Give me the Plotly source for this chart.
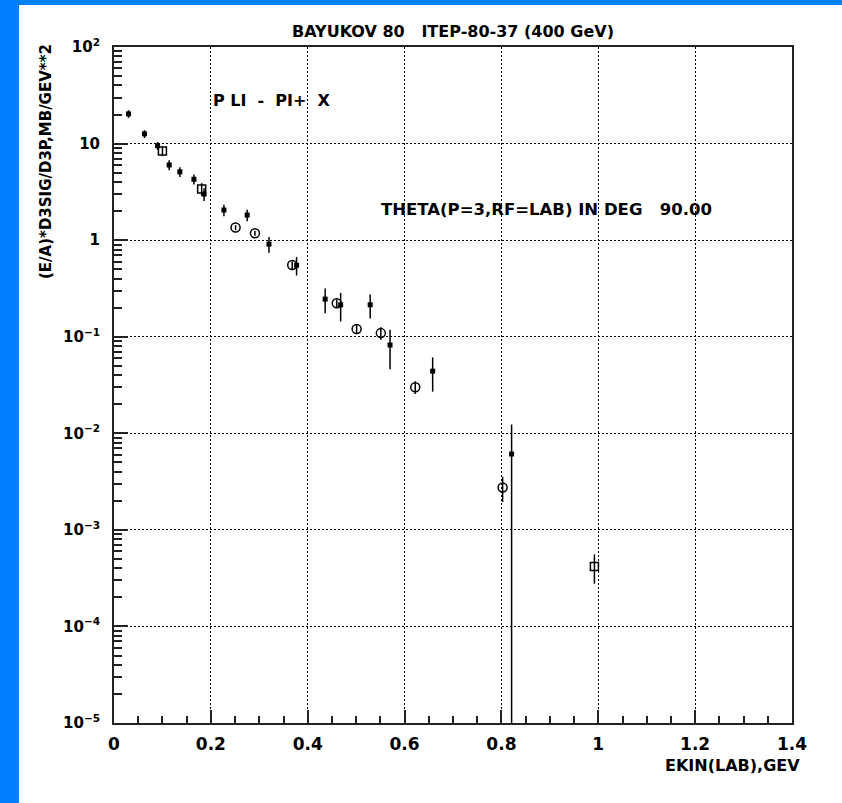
import plotly.graph_objects as go

# ---- data ----
filled_x = [0.030, 0.063, 0.090, 0.114, 0.136, 0.165, 0.186, 0.227, 0.275, 0.320,
            0.377, 0.436, 0.468, 0.529, 0.570, 0.658, 0.821]
filled_y = [20.3, 12.6, 9.5, 6.0, 5.1, 4.27, 3.0, 2.05, 1.82, 0.91,
            0.55, 0.245, 0.214, 0.214, 0.082, 0.044, 0.0061]
filled_err = [1.9, 1.2, 0.9, 0.7, 0.6, 0.5, 0.45, 0.28, 0.25, 0.17,
              0.12, 0.07, 0.07, 0.06, 0.036, 0.017, 0.0062]

square_x = [0.100, 0.181, 0.992]
square_y = [8.4, 3.39, 0.000417]
square_err = [1.0, 0.5, 0.00014]

circle_x = [0.251, 0.291, 0.368, 0.460, 0.501, 0.551, 0.622, 0.8025]
circle_y = [1.35, 1.18, 0.553, 0.222, 0.12, 0.109, 0.030, 0.00274]
circle_err = [0.08, 0.07, 0.05, 0.02, 0.012, 0.016, 0.0045, 0.0008]

y_tickvals = [1e-5, 1e-4, 1e-3, 1e-2, 1e-1, 1, 10, 100]
y_ticktext = ["10<sup>−5</sup>", "10<sup>−4</sup>", "10<sup>−3</sup>", "10<sup>−2</sup>",
              "10<sup>−1</sup>", "1", "10", "10<sup>2</sup>"]
y_minor = [m * 10.0 ** e for e in range(-5, 2) for m in range(2, 10)]

title_text = "BAYUKOV 80   ITEP-80-37 (400 GeV)"
reaction_text = "P LI  -  PI+  X"
theta_text = "THETA(P=3,RF=LAB) IN DEG   90.00"
x_title = "EKIN(LAB),GEV"
y_title = "(E/A)*D3SIG/D3P,MB/GEV**2"

FONT = "DejaVu Sans"
BLUE = "#0080ff"

# ---- figure ----
W, H = 842, 803
L, R, T, B = 114, 50, 47, 80
pw, ph = W - L - R, H - T - B


def px_x(p):
    return (p - L) / pw


def px_y(p):
    return (H - B - p) / ph


err_style = dict(type="data", thickness=1.5, width=0, color="black")

fig = go.Figure()
fig.add_trace(go.Scatter(
    x=filled_x, y=filled_y, mode="markers",
    marker=dict(symbol="square", size=5, color="black"),
    error_y=dict(array=filled_err, **err_style), showlegend=False))
fig.add_trace(go.Scatter(
    x=square_x, y=square_y, mode="markers",
    marker=dict(symbol="square-open", size=8, color="black", line=dict(width=1.5)),
    error_y=dict(array=square_err, **err_style), showlegend=False))
fig.add_trace(go.Scatter(
    x=circle_x, y=circle_y, mode="markers",
    marker=dict(symbol="circle-open", size=9, color="black", line=dict(width=1.5)),
    error_y=dict(array=circle_err, **err_style), showlegend=False))

fig.update_layout(
    width=W, height=H,
    margin=dict(l=L, r=R, t=T, b=B, pad=0),
    paper_bgcolor="white", plot_bgcolor="white",
    font=dict(family=FONT, color="black"),
    shapes=[
        # left blue band
        dict(type="rect", xref="paper", yref="paper",
             x0=-0.3, x1=px_x(19), y0=-0.3, y1=1.3,
             fillcolor=BLUE, line=dict(width=0), layer="below"),
        # top blue band
        dict(type="rect", xref="paper", yref="paper",
             x0=-0.3, x1=1.3, y0=px_y(5), y1=1.3,
             fillcolor=BLUE, line=dict(width=0), layer="below"),
    ],
    annotations=[
        dict(text=title_text, x=0.5, y=px_y(32), xref="paper", yref="paper",
             showarrow=False, xanchor="center", yanchor="middle",
             font=dict(size=16, family=FONT, weight="bold")),
        dict(text=reaction_text, x=px_x(211), y=px_y(100), xref="paper", yref="paper",
             showarrow=False, xanchor="left", yanchor="middle",
             font=dict(size=16, family=FONT, weight="bold")),
        dict(text=theta_text, x=px_x(379), y=px_y(210), xref="paper", yref="paper",
             showarrow=False, xanchor="left", yanchor="middle",
             font=dict(size=16.5, family=FONT, weight="bold")),
        dict(text=x_title, x=px_x(802), y=px_y(765), xref="paper", yref="paper",
             showarrow=False, xanchor="right", yanchor="middle",
             font=dict(size=16, family=FONT, weight="bold")),
        dict(text=y_title, x=px_x(46), y=px_y(162), xref="paper", yref="paper",
             showarrow=False, xanchor="center", yanchor="middle", textangle=-90,
             font=dict(size=15, family=FONT, weight="bold")),
    ],
)

fig.update_xaxes(
    range=[0, 1.4], dtick=0.2, tick0=0, automargin=False,
    showline=True, linecolor="#222", linewidth=2, mirror=True,
    ticks="inside", ticklen=13, tickwidth=1.5, tickcolor="#222",
    tickfont=dict(size=17, family=FONT, weight="bold"),
    ticklabelstandoff=5,
    showgrid=True, gridcolor="black", gridwidth=1, griddash="2px,2px",
    minor=dict(dtick=0.05, ticks="inside", ticklen=7, tickwidth=1.5,
               tickcolor="#222", showgrid=False),
    zeroline=False,
)
fig.update_yaxes(
    type="log", range=[-5, 2], automargin=False,
    tickmode="array", tickvals=y_tickvals, ticktext=y_ticktext,
    showline=True, linecolor="#222", linewidth=2, mirror=True,
    ticks="inside", ticklen=14, tickwidth=1.5, tickcolor="#222",
    tickfont=dict(size=15, family=FONT, weight="bold"),
    ticklabelstandoff=9,
    showgrid=True, gridcolor="black", gridwidth=1, griddash="2px,2px",
    minor=dict(tickmode="array", tickvals=y_minor, ticks="inside", ticklen=8,
               tickwidth=1.5, tickcolor="#222", showgrid=False),
    zeroline=False,
)

fig.write_html(
    "out.html",
    config={"displayModeBar": False},
    post_script="document.body.style.margin='0';document.body.style.overflow='hidden';",
)
